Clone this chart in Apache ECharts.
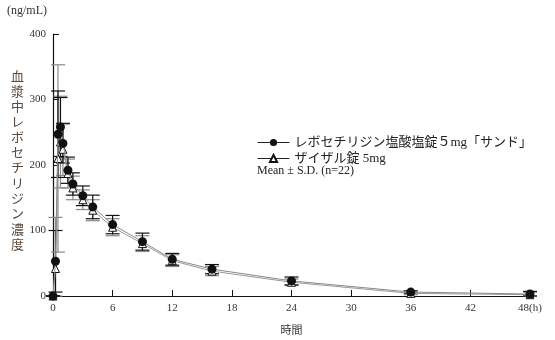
<!DOCTYPE html>
<html>
<head>
<meta charset="utf-8">
<script src="https://cdn.jsdelivr.net/npm/echarts@6/dist/echarts.min.js"></script>
<style>
  html, body { margin: 0; padding: 0; background: #fff; }
  #chart { width: 555px; height: 340px; }
</style>
</head>
<body>
<div id="chart"></div>
<script>
// Sampling times (h)
const hours = [0, 0.25, 0.5, 0.75, 1, 1.5, 2, 3, 4, 6, 9, 12, 16, 24, 36, 48];
// Levocetirizine plasma concentration (ng/mL), mean and SD
const sandMean = [0, 53, 247, 258, 233, 192, 171, 153, 136, 109, 83, 56, 41, 23, 6, 3];
const sandSD   = [0, 47, 66, 45, 30, 20, 17, 15, 18, 14, 13, 9, 7, 6, 2, 4];
const xyzalMean = [0, 42, 210, 235, 224, 187, 165, 147, 131, 105, 80, 54, 38, 21, 4, 2];
const xyzalSD   = [0, 78, 143, 70, 40, 22, 18, 15, 16, 13, 12, 9, 7, 5, 2, 4];
// Axis ticks
const xTicks = [0, 6, 12, 18, 24, 30, 36, 42, 48];
const yTicks = [0, 100, 200, 300, 400];
const sandName = 'レボセチリジン塩酸塩錠５mg「サンド」';
const xyzalName = 'ザイザル錠 5mg';

const serif = '"Liberation Serif", "DejaVu Serif", "Noto Sans CJK JP", serif';

function pairs(mean) { return hours.map((h, i) => [h, mean[i]]); }
function bars(mean, sd) {
  return hours.map((h, i) => [h, Math.max(0, mean[i] - sd[i]), mean[i] + sd[i]]);
}
function errorBar(color) {
  return function (params, api) {
    const x = api.value(0);
    const lo = api.coord([x, api.value(1)]);
    const hi = api.coord([x, api.value(2)]);
    const w = 7;
    const style = { stroke: color, lineWidth: 1.2 };
    return {
      type: 'group',
      children: [
        { type: 'line', shape: { x1: hi[0], y1: hi[1], x2: lo[0], y2: lo[1] }, style },
        { type: 'line', shape: { x1: hi[0] - w, y1: hi[1], x2: hi[0] + w, y2: hi[1] }, style },
        { type: 'line', shape: { x1: lo[0] - w, y1: lo[1], x2: lo[0] + w, y2: lo[1] }, style }
      ]
    };
  };
}

const chart = echarts.init(document.getElementById('chart'), null, { renderer: 'canvas' });
chart.setOption({
  animation: false,
  backgroundColor: '#fff',
  textStyle: { fontFamily: serif },
  grid: { left: 53, right: 25, top: 34, bottom: 42 },
  legend: {
    orient: 'vertical',
    left: 252,
    top: 131,
    itemWidth: 32,
    itemHeight: 9,
    itemGap: 3,
    textStyle: { fontFamily: serif, fontSize: 13, color: '#222' },
    data: [
      { name: sandName, lineStyle: { color: '#222', width: 1 } },
      { name: xyzalName, lineStyle: { color: '#222', width: 1 } }
    ]
  },
  xAxis: {
    type: 'value',
    min: 0, max: 48, interval: 6,
    axisLine: { lineStyle: { color: '#111', width: 1.2 } },
    axisTick: { inside: true, length: 6, lineStyle: { color: '#111' } },
    splitLine: { show: false },
    axisLabel: {
      color: '#333', fontSize: 11, fontFamily: serif, margin: 7,
      formatter: v => (v === 48 ? '48(h)' : String(v))
    },
    name: '時間',
    nameLocation: 'middle',
    nameGap: 28,
    nameTextStyle: { fontSize: 11, color: '#333', fontFamily: '"Noto Sans CJK JP", sans-serif' }
  },
  yAxis: {
    type: 'value',
    min: 0, max: 400, interval: 100,
    axisLine: { show: true, lineStyle: { color: '#111', width: 1.2 } },
    axisTick: { show: true, inside: true, length: 6, lineStyle: { color: '#111' } },
    splitLine: { show: false },
    axisLabel: { color: '#333', fontSize: 11, fontFamily: serif, margin: 7 }
  },
  graphic: [
    {
      type: 'text', left: 7, top: 5,
      style: { text: '(ng/mL)', font: '12px ' + serif, fill: '#333' }
    },
    {
      type: 'text', left: 11, top: 68,
      style: {
        text: '血漿中レボセチリジン濃度'.split('').join('\n'),
        font: '13px "Noto Sans CJK JP", sans-serif',
        lineHeight: 15.3,
        fill: '#5b4a3c',
        align: 'left'
      }
    },
    {
      type: 'text', left: 257, top: 165,
      style: { text: 'Mean ± S.D. (n=22)', font: '12px ' + serif, fill: '#222' }
    }
  ],
  series: [
    {
      type: 'custom',
      name: 'xyzalSD',
      renderItem: errorBar('#888'),
      data: bars(xyzalMean, xyzalSD),
      encode: { x: 0, y: [1, 2] },
      z: 2,
      silent: true
    },
    {
      type: 'custom',
      name: 'sandSD',
      renderItem: errorBar('#111'),
      data: bars(sandMean, sandSD),
      encode: { x: 0, y: [1, 2] },
      z: 3,
      silent: true
    },
    {
      type: 'line',
      name: xyzalName,
      data: pairs(xyzalMean),
      symbol: 'triangle',
      symbolSize: 8,
      itemStyle: { color: '#fff', borderColor: '#111', borderWidth: 1 },
      lineStyle: { color: '#999', width: 1 },
      z: 4
    },
    {
      type: 'line',
      name: sandName,
      data: pairs(sandMean),
      symbol: 'circle',
      symbolSize: 9,
      itemStyle: { color: '#111', borderColor: '#111', borderWidth: 0 },
      lineStyle: { color: '#888', width: 1 },
      z: 5
    }
  ]
});
</script>
</body>
</html>
